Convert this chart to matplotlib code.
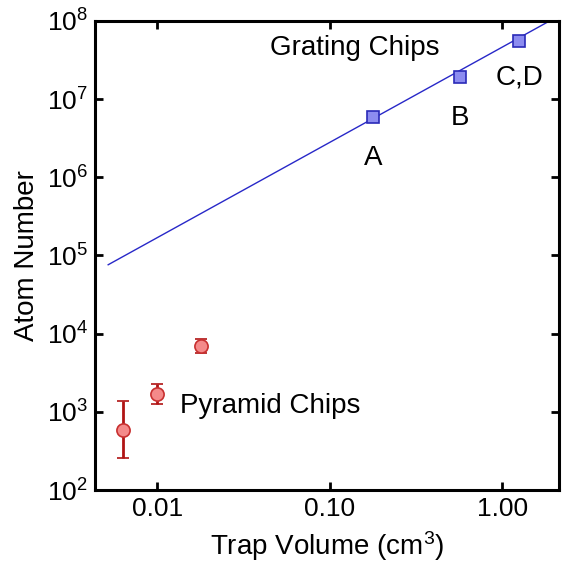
import matplotlib
matplotlib.use("Agg")
import matplotlib.pyplot as plt
from matplotlib.ticker import FixedLocator, FuncFormatter, NullLocator, LogLocator

plt.rcParams['font.family'] = ['Liberation Sans', 'DejaVu Sans']
plt.rcParams['mathtext.fontset'] = 'custom'
plt.rcParams['mathtext.rm'] = 'Liberation Sans'
plt.rcParams['mathtext.default'] = 'regular'

# grating chips (A, B, C/D)
grating_vol = [0.179, 0.571, 1.25]
grating_atoms = [5.9e6, 1.92e7, 5.55e7]
grating_labels = ['A', 'B', 'C,D']

# scaling line through the grating points
fit_vol = [0.0052, 2.2]
fit_atoms = [7.6e4, 1.2e8]

# pyramid chips with asymmetric error bars
pyramid_vol = [0.00635, 0.010, 0.018]
pyramid_atoms = [585, 1690, 6930]
pyramid_low = [256, 1260, 5650]
pyramid_high = [1374, 2270, 8530]

err_lo = [a - l for a, l in zip(pyramid_atoms, pyramid_low)]
err_hi = [h - a for a, h in zip(pyramid_atoms, pyramid_high)]

fig = plt.figure(figsize=(5.63, 5.62), dpi=100)
ax = fig.add_axes([0.169, 0.128, 0.824, 0.835])

ax.plot(fit_vol, fit_atoms, color='#2828c8', linewidth=1.0, zorder=2)
ax.plot(grating_vol, grating_atoms, linestyle='none', marker='s', markersize=8,
        markerfacecolor='#8c8cf0', markeredgecolor='#2a2ab8', markeredgewidth=1.2, zorder=3)

ax.errorbar(pyramid_vol, pyramid_atoms, yerr=[err_lo, err_hi], fmt='o', markersize=9.5,
            markerfacecolor='#f48a8a', markeredgecolor='#c83030', markeredgewidth=1.2,
            ecolor='#b01414', elinewidth=2, capsize=4.5, capthick=2, zorder=3)

ax.set_xscale('log')
ax.set_yscale('log')
ax.set_xlim(0.00437, 2.14)
ax.set_ylim(1e2, 1e8)

ax.xaxis.set_major_locator(FixedLocator([0.01, 0.1, 1.0]))
ax.xaxis.set_major_formatter(FuncFormatter(lambda v, p: f'{v:.2f}'))
ax.xaxis.set_minor_locator(NullLocator())
ax.yaxis.set_major_locator(LogLocator(base=10, numticks=10))
ax.yaxis.set_minor_locator(NullLocator())

ax.tick_params(which='major', direction='in', length=6, width=2, labelsize=19,
               top=True, right=True, pad=5)
for sp in ax.spines.values():
    sp.set_linewidth(2.2)

ax.set_xlabel('Trap Volume (cm$^3$)', fontsize=20, labelpad=6)
ax.set_ylabel('Atom Number', fontsize=20, labelpad=5)

ax.text(0.14, 4.5e7, 'Grating Chips', fontsize=20, va='center', ha='center')
ax.text(grating_vol[0], grating_atoms[0] * 0.30, grating_labels[0], fontsize=20, ha='center', va='center')
ax.text(grating_vol[1], grating_atoms[1] * 0.30, grating_labels[1], fontsize=20, ha='center', va='center')
ax.text(1.27, grating_atoms[2] * 0.336, grating_labels[2], fontsize=20, ha='center', va='center')
ax.text(0.0136, 1.19e3, 'Pyramid Chips', fontsize=20, va='center', ha='left')

fig.savefig('out.png', dpi=100)
